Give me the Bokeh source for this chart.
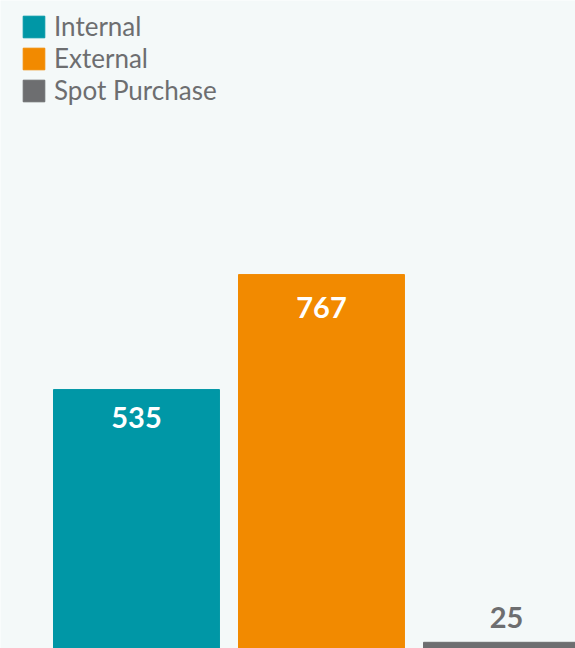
from bokeh.plotting import figure
from bokeh.models import ColumnDataSource, Range1d, Legend, LegendItem
from bokeh.core.properties import value
from bokeh.embed import file_html
from bokeh.resources import INLINE

categories = ["Internal", "External", "Spot Purchase"]
values = [535, 767, 25]
colors = ["#0097a6", "#f28a00", "#6d6e70"]
label_colors = ["#ffffff", "#ffffff", "#6d6e70"]
label_offsets = [28, 33, -25]

x = list(range(len(categories)))
src = ColumnDataSource(dict(
    x=x, top=values, cat=categories, color=colors,
    label=[str(v) for v in values], lcolor=label_colors, loff=label_offsets,
))

p = figure(width=575, height=648, output_backend="svg", toolbar_location=None,
           x_range=Range1d(-0.735, 2.373), y_range=Range1d(12.5, 1320),
           min_border=0, background_fill_color="#f4f9f9",
           border_fill_color="#f4f9f9", outline_line_color=None)
p.axis.visible = False
p.grid.visible = False

bars = p.vbar(x="x", top="top", bottom=0, width=0.897, color="color", source=src)

p.text(x="x", y="top", text="label", text_color="lcolor", y_offset="loff",
       text_align="center", text_baseline="middle",
       text_font=value("Lato"), text_font_size="29px", text_font_style="bold",
       source=src)

items = [LegendItem(label=c, renderers=[bars], index=i) for i, c in enumerate(categories)]
legend = Legend(items=items, location=(20, 542), margin=0, padding=0,
                spacing=0, glyph_width=27, glyph_height=27, label_standoff=7,
                label_text_font="Lato", label_text_font_size="26px",
                label_text_color="#6d6e70", label_height=27,
                background_fill_alpha=0, border_line_color=None)
p.add_layout(legend, "center")

open("out.html", "w").write(file_html(p, INLINE))
